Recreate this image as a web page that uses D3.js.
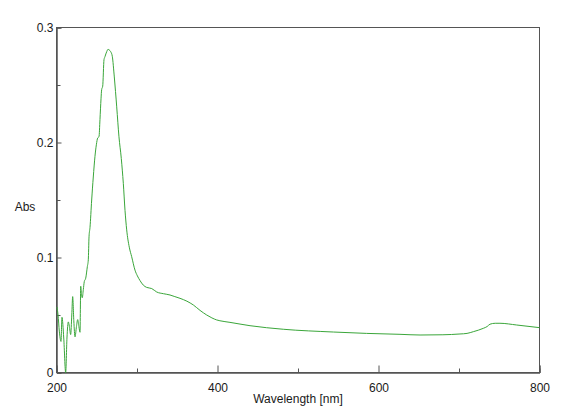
<!DOCTYPE html>
<html>
<head>
<meta charset="utf-8">
<script src="https://cdn.jsdelivr.net/npm/d3@7"></script>
<style>
  html, body { margin: 0; padding: 0; background: #fff; }
  svg { display: block; }
  text { font-family: "Liberation Sans", Arial, sans-serif; font-size: 12px; fill: #1a1a1a; }
</style>
</head>
<body>
<svg id="chart" width="563" height="414"></svg>
<script>
const wavelengths = [200.6, 201.9, 203.5, 205.6, 206.8, 209, 211.4, 213, 214.7, 216, 217.6, 219, 220.1, 221.5, 223, 224.8, 226.3, 227.8, 229.2, 230.1, 231, 232, 233.3, 234.5, 236.3, 238.3, 239.5, 240.4, 241.6, 243.7, 245.7, 247.8, 249.5, 251.2, 252.8, 254, 255.3, 256.1, 257.4, 259, 260.2, 261.3, 262.4, 264, 265.6, 267.3, 269.3, 271.8, 274.8, 277.6, 280.5, 283, 285.1, 287.2, 290.4, 293.4, 297.5, 300.5, 303.7, 307.8, 312, 318.3, 324.5, 333, 341, 347, 353.4, 362, 370, 378.3, 386.6, 393, 399, 403, 415.5, 440.4, 481.7, 543.9, 585.3, 626.7, 651.6, 680, 701.2, 710, 717.8, 724, 730.2, 735, 738.5, 745, 750.9, 771.7, 800];
const absorbance = [0.057, 0.050, 0.036, 0.027, 0.048, 0.030, 0.000, 0.030, 0.044, 0.040, 0.033, 0.050, 0.066, 0.045, 0.031, 0.040, 0.046, 0.040, 0.035, 0.075, 0.068, 0.065, 0.072, 0.079, 0.082, 0.092, 0.098, 0.118, 0.126, 0.150, 0.170, 0.188, 0.198, 0.204, 0.205, 0.220, 0.238, 0.246, 0.249, 0.272, 0.2746, 0.277, 0.279, 0.281, 0.2804, 0.279, 0.275, 0.257, 0.231, 0.205, 0.186, 0.1645, 0.141, 0.124, 0.109, 0.1007, 0.089, 0.084, 0.080, 0.076, 0.074, 0.073, 0.070, 0.0685, 0.0674, 0.066, 0.0645, 0.062, 0.0587, 0.054, 0.050, 0.0475, 0.0457, 0.045, 0.0436, 0.0407, 0.0376, 0.0352, 0.034, 0.0332, 0.0326, 0.0328, 0.0335, 0.034, 0.0355, 0.0368, 0.0384, 0.040, 0.042, 0.0428, 0.0428, 0.0413, 0.039];

const xMajorTicks = [200, 400, 600, 800];
const xMinorTicks = [300, 500, 700];
const yMajorTicks = [0, 0.1, 0.2, 0.3];
const yMinorTicks = [0.05, 0.15, 0.25];
const xTitle = "Wavelength [nm]";
const yTitle = "Abs";

(function () {
const svg = d3.select("#chart");
const mLeft = 56.5, mRight = 539.5, mTop = 27.5, mBottom = 372.5;
const axisColor = "#555";

const x = d3.scaleLinear().domain([200, 800]).range([mLeft, mRight]);
const y = d3.scaleLinear().domain([0, 0.3]).range([mBottom, mTop]);

// frame
svg.append("rect")
  .attr("x", mLeft).attr("y", mTop)
  .attr("width", mRight - mLeft).attr("height", mBottom - mTop)
  .attr("fill", "none").attr("stroke", axisColor).attr("stroke-width", 1);

// x axis (ticks inward)
const xAxis = d3.axisBottom(x).tickValues(xMajorTicks).tickSize(-7).tickPadding(11)
  .tickFormat(d3.format("d"));
const gx = svg.append("g").attr("transform", `translate(0,${mBottom})`).call(xAxis);
const gxm = svg.append("g").attr("transform", `translate(0,${mBottom})`)
  .call(d3.axisBottom(x).tickValues(xMinorTicks).tickSize(-4).tickFormat(""));

// y axis (ticks inward)
const yAxis = d3.axisLeft(y).tickValues(yMajorTicks).tickSize(-5).tickPadding(3)
  .tickFormat(d => d === 0 ? "0" : d3.format(".1f")(d));
const gy = svg.append("g").attr("transform", `translate(${mLeft},0)`).call(yAxis);
const gym = svg.append("g").attr("transform", `translate(${mLeft},0)`)
  .call(d3.axisLeft(y).tickValues(yMinorTicks).tickSize(-4).tickFormat(""));

[gx, gxm, gy, gym].forEach(g => {
  g.select(".domain").attr("stroke", axisColor);
  g.selectAll(".tick line").attr("stroke", axisColor);
  g.selectAll(".tick text").attr("fill", "#1a1a1a")
    .style("font-family", '"Liberation Sans", Arial, sans-serif').style("font-size", "12px");
});

// axis titles
svg.append("text").attr("x", 298).attr("y", 403).attr("text-anchor", "middle").text(xTitle);
svg.append("text").attr("x", 25).attr("y", 211).attr("text-anchor", "middle").text(yTitle);

// data line
const data = wavelengths.map((w, i) => ({ w, a: absorbance[i] }));
const line = d3.line().x(d => x(d.w)).y(d => y(d.a)).curve(d3.curveMonotoneX);
svg.append("path").datum(data)
  .attr("d", line)
  .attr("fill", "none")
  .attr("stroke", "#3aa63a")
  .attr("stroke-width", 1);
})();
</script>
</body>
</html>
